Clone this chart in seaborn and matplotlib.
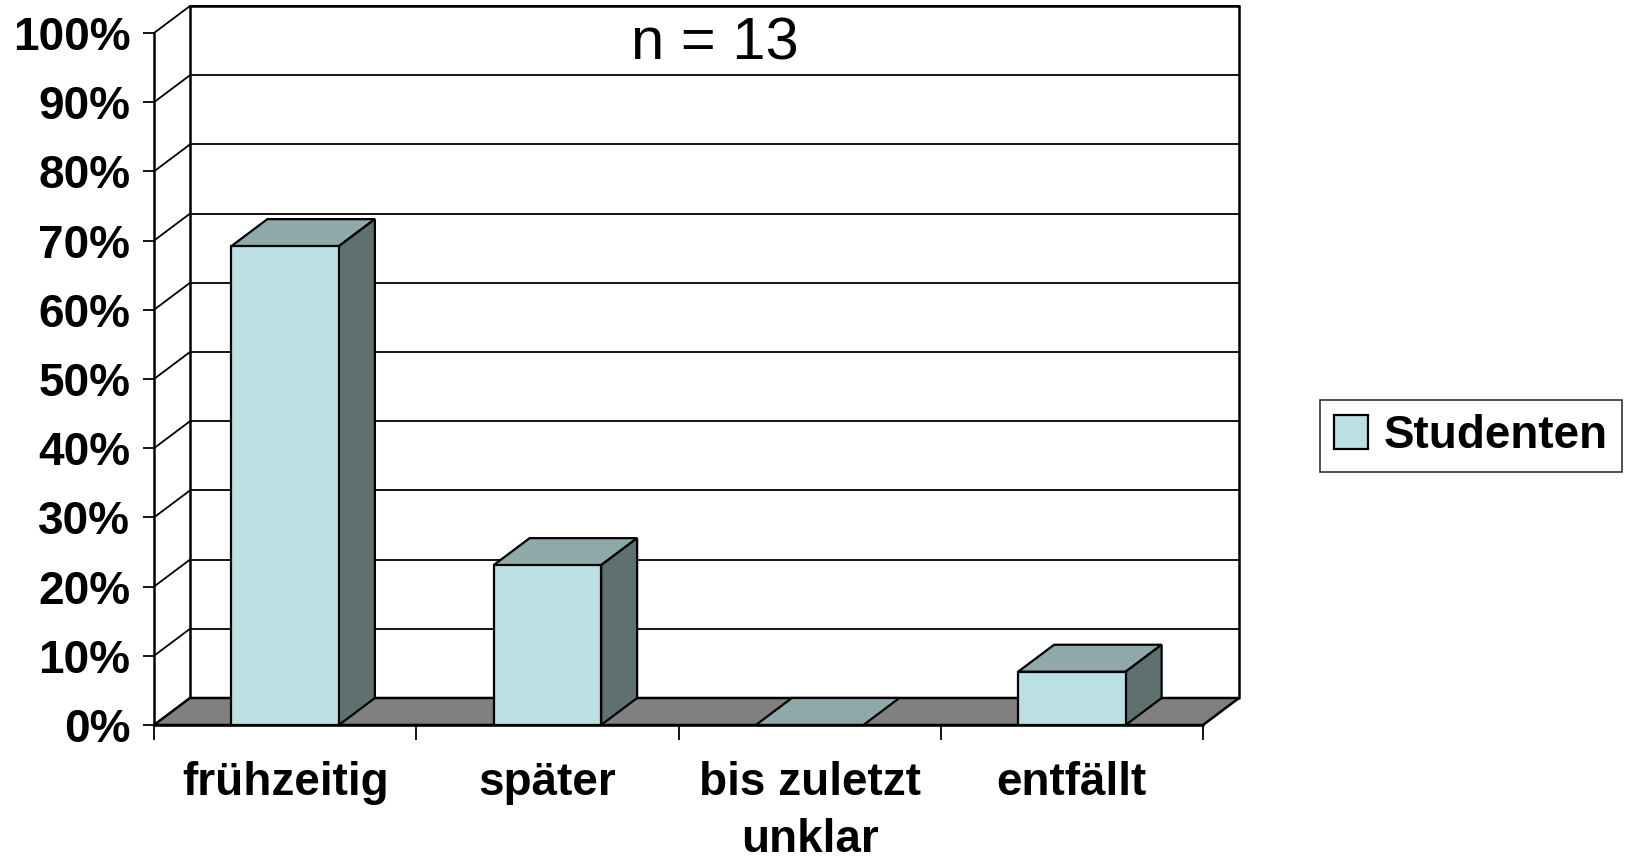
import numpy as np
import pandas as pd
import matplotlib
matplotlib.use("Agg")
import matplotlib.pyplot as plt
from matplotlib.patches import Polygon
import seaborn as sns

# ---- data ----
categories = ["frühzeitig", "später", "bis zuletzt\nunklar", "entfällt"]
values = [69.2, 23.1, 0.0, 7.7]
series_name = "Studenten"
title_text = "n = 13"
y_ticks = [0, 10, 20, 30, 40, 50, 60, 70, 80, 90, 100]
y_tick_labels = [f"{v}%" for v in y_ticks]

df = pd.DataFrame({"Kategorie": categories, "Anteil": values, "Gruppe": [series_name] * len(categories)})

FRONT = "#BAE0E3"
TOP = "#8FA9AA"
SIDE = "#5F7070"
FLOOR = "#808080"

sns.set_theme(style="white")
plt.rcParams["font.family"] = ["Liberation Sans", "DejaVu Sans"]
plt.rcParams["text.color"] = "black"
plt.rcParams["xtick.color"] = "black"
plt.rcParams["ytick.color"] = "black"
plt.rcParams["axes.labelcolor"] = "black"

W, H = 1629, 864
fig = plt.figure(figsize=(W / 100, H / 100), dpi=100)
ax_l, ax_r = 154, 1203
ax_t, ax_b = 33, 725
ax = fig.add_axes([ax_l / W, 1 - ax_b / H, (ax_r - ax_l) / W, (ax_b - ax_t) / H])

sns.barplot(data=df, x="Kategorie", y="Anteil", hue="Gruppe", palette=[FRONT],
            width=0.41, edgecolor="black", linewidth=1.6, ax=ax, zorder=4,
            saturation=1, legend=True)

ax.set_xlim(-0.5, 3.5)
ax.set_ylim(0, 100)

DEPTH_PX, RISE_PX = 36, 27
dx = DEPTH_PX / (ax_r - ax_l) * 4.0
dy = RISE_PX / (ax_b - ax_t) * 100.0

x0, x1 = -0.5, 3.5
# floor
floor = Polygon([(x0, 0), (x1, 0), (x1 + dx, dy), (x0 + dx, dy)], closed=True,
                facecolor=FLOOR, edgecolor="black", linewidth=1.8, zorder=1, clip_on=False)
ax.add_patch(floor)
# back wall gridlines and side wall diagonals
for v in y_ticks:
    if v > 0:
        ax.plot([x0 + dx, x1 + dx], [v + dy, v + dy], color="black", lw=1.3, zorder=0.5, clip_on=False)
    ax.plot([x0, x0 + dx], [v, v + dy], color="black", lw=1.3, zorder=0.5, clip_on=False)
# wall edges
ax.plot([x0 + dx, x0 + dx], [dy, 100 + dy], color="black", lw=1.8, zorder=0.6, clip_on=False)
ax.plot([x1 + dx, x1 + dx], [dy, 100 + dy], color="black", lw=1.8, zorder=0.6, clip_on=False)
ax.plot([x0 + dx, x1 + dx], [100 + dy, 100 + dy], color="black", lw=1.8, zorder=0.6, clip_on=False)
ax.plot([x0, x0], [0, 100], color="black", lw=1.8, zorder=0.6, clip_on=False)
ax.plot([x0, x1], [0, 0], color="black", lw=1.8, zorder=2, clip_on=False)

# 3D faces for each bar
for p in ax.patches:
    if p is floor:
        continue
    bx, bw, bh = p.get_x(), p.get_width(), p.get_height()
    top = Polygon([(bx, bh), (bx + bw, bh), (bx + bw + dx, bh + dy), (bx + dx, bh + dy)],
                  closed=True, facecolor=TOP, edgecolor="black", linewidth=1.6, zorder=3, clip_on=False)
    ax.add_patch(top)
    if bh > 0:
        side = Polygon([(bx + bw, 0), (bx + bw + dx, dy), (bx + bw + dx, bh + dy), (bx + bw, bh)],
                       closed=True, facecolor=SIDE, edgecolor="black", linewidth=1.6, zorder=3, clip_on=False)
        ax.add_patch(side)

for s in ax.spines.values():
    s.set_visible(False)
ax.grid(False)
ax.set_facecolor("none")
ax.set_xlabel("")
ax.set_ylabel("")

ax.set_yticks(y_ticks)
ax.set_yticklabels(y_tick_labels, fontsize=33, fontweight="bold")
ax.tick_params(axis="y", left=True, length=8, width=1.3, color="black", pad=9)

ax.set_xticks(range(len(categories)))
ax.set_xticklabels(categories, fontsize=33, fontweight="bold", linespacing=1.38)
ax.set_xticks([-0.5, 0.5, 1.5, 2.5, 3.5], minor=True)
ax.tick_params(axis="x", which="major", length=0, pad=26)
ax.tick_params(axis="x", which="minor", bottom=True, length=11, width=1.3, color="black")

fig.text(715 / W, 1 - 60 / H, title_text, fontsize=43, ha="center", va="baseline", color="black")

leg = ax.legend(loc="center left", bbox_to_anchor=(1320 / W, 1 - 436 / H),
                bbox_transform=fig.transFigure, borderaxespad=0, frameon=True,
                fancybox=False, prop={"size": 33, "weight": "bold"},
                handlelength=0.75, handleheight=0.75, handletextpad=0.35, borderpad=0.3)
leg.get_frame().set_edgecolor("black")
leg.get_frame().set_linewidth(1.2)
for t in leg.get_texts():
    t.set_color("black")

fig.savefig("out.png", dpi=100, facecolor="white")
